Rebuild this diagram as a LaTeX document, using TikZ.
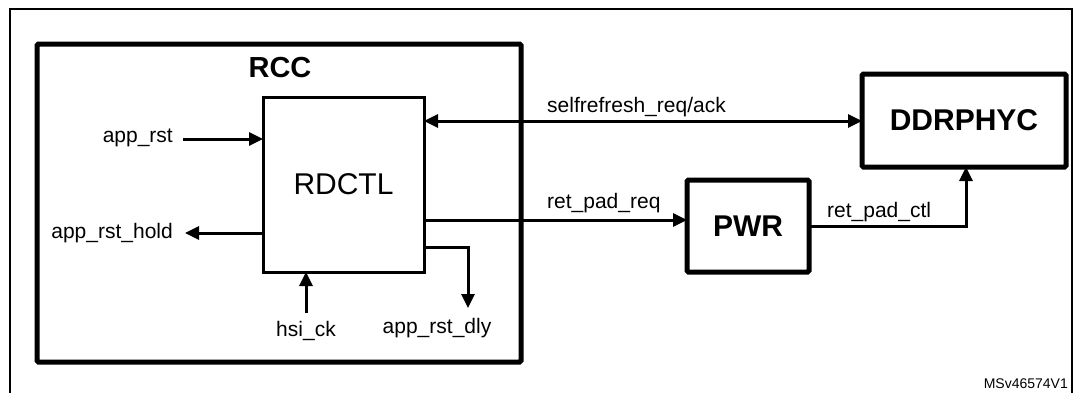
\documentclass[tikz,border=0pt]{standalone}
\usepackage{fontspec}
\setmainfont{Liberation Sans}
\usetikzlibrary{arrows.meta}
\tikzset{
  frame/.style={line width=2pt},
  thickbox/.style={draw, line width=5pt, rounded corners=1.5pt, inner sep=0pt, outer sep=0pt},
  thinbox/.style={draw, line width=3pt, inner sep=0pt, outer sep=0pt},
  sig/.style={line width=3pt, -{Triangle[length=14pt,width=13pt]}},
  bisig/.style={line width=3pt, {Triangle[length=14pt,width=13pt]}-{Triangle[length=14pt,width=13pt]}},
  lbl/.style={inner sep=0pt, font=\fontsize{21}{25}\selectfont},
  bigbold/.style={font=\fontsize{30}{36}\selectfont\bfseries},
}
\begin{document}
\begin{tikzpicture}[x=1pt,y=-1pt]
\useasboundingbox (0,0) rectangle (1074,392);
% outer frame (bottom cut off)
\draw[frame] (10,400) -- (10,9) -- (1072,9) -- (1072,400);
% blocks
\node[thickbox, minimum width=484pt, minimum height=318pt] (rcc) at (279,203) {};
\node[inner sep=0pt, anchor=base, font=\fontsize{29}{34}\selectfont\bfseries] (rcclbl) at (280,77) {RCC};
\node[thinbox, minimum width=161pt, minimum height=175pt, font=\fontsize{30}{36}\selectfont] (rdctl) at (343.5,184.5) {RDCTL};
\node[thickbox, minimum width=204pt, minimum height=93pt, bigbold] (ddr) at (964,120.5) {DDRPHYC};
\node[thickbox, minimum width=122pt, minimum height=92pt, bigbold] (pwr) at (748,226) {PWR};
% free ends
\coordinate (rstin) at (183,139);
\coordinate (holdout) at (185,233);
\coordinate (hsiin) at (306,313);
\coordinate (dlyc) at (468,247);
\coordinate (dlyout) at (468,308);
\coordinate (ctlc) at (966,226);
% connectors
\draw[sig] (rstin) -- (rstin -| rdctl.west);
\draw[sig] (holdout -| rdctl.west) -- (holdout);
\draw[sig] (hsiin) -- (hsiin |- rdctl.south);
\draw[sig] (dlyc -| rdctl.east) -- (dlyc) -- (dlyout);
\draw[bisig] (rdctl.east |- 0,121) -- (ddr.west |- 0,121);
\draw[sig] (rdctl.east |- 0,220) -- (pwr.west |- 0,220);
\draw[sig] (pwr.east |- ctlc) -- (ctlc) -- (ctlc |- ddr.south);
% labels
\node[lbl, anchor=base east] (l1) at (173,142) {app\_rst};
\node[lbl, anchor=base east] (l2) at (173,238) {app\_rst\_hold};
\node[lbl, anchor=base] (l3) at (306,336) {hsi\_ck};
\node[lbl, anchor=base] (l4) at (437,333) {app\_rst\_dly};
\node[lbl, anchor=base west] (l5) at (547,112) {selfrefresh\_req/ack};
\node[lbl, anchor=base west] (l6) at (547,208) {ret\_pad\_req};
\node[lbl, anchor=base west] (l7) at (827,217) {ret\_pad\_ctl};
\node[inner sep=0pt, anchor=base east, font=\fontsize{14}{16}\selectfont] (ms) at (1068,388) {MSv46574V1};
\end{tikzpicture}
\end{document}
